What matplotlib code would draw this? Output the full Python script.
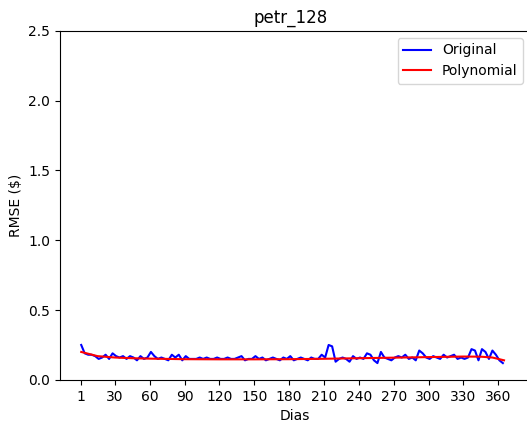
import matplotlib
matplotlib.use("Agg")
import matplotlib.pyplot as plt
import numpy as np

title = "petr_128"
xticks = [1, 30, 60, 90, 120, 150, 180, 210, 240, 270, 300, 330, 360]

# original RMSE, sampled every 3 days starting at day 1
original = [
    0.25, 0.19, 0.18, 0.18, 0.17, 0.15, 0.16, 0.18, 0.15, 0.19,
    0.17, 0.16, 0.17, 0.15, 0.17, 0.16, 0.14, 0.17, 0.15, 0.16,
    0.20, 0.17, 0.15, 0.16, 0.15, 0.14, 0.18, 0.16, 0.18, 0.14,
    0.17, 0.15, 0.15, 0.15, 0.16, 0.15, 0.16, 0.15, 0.15, 0.16,
    0.15, 0.15, 0.16, 0.15, 0.15, 0.16, 0.17, 0.14, 0.15, 0.15,
    0.17, 0.15, 0.16, 0.14, 0.15, 0.16, 0.15, 0.14, 0.16, 0.15,
    0.17, 0.14, 0.15, 0.16, 0.15, 0.14, 0.16, 0.15, 0.15, 0.18,
    0.16, 0.25, 0.24, 0.13, 0.15, 0.16, 0.15, 0.13, 0.17, 0.15,
    0.16, 0.15, 0.19, 0.18, 0.14, 0.12, 0.20, 0.16, 0.15, 0.14,
    0.16, 0.17, 0.16, 0.18, 0.15, 0.16, 0.14, 0.21, 0.19, 0.16,
    0.15, 0.17, 0.16, 0.15, 0.18, 0.16, 0.17, 0.18, 0.15, 0.16,
    0.15, 0.16, 0.22, 0.21, 0.14, 0.22, 0.20, 0.15, 0.21, 0.18,
    0.14, 0.12,
]
original_days = 1 + 3 * np.arange(len(original))

poly_days = [1, 15, 30, 45, 60, 90, 120, 150, 180, 210, 240, 270, 300, 330, 345, 355, 365]
polynomial = [0.20, 0.17, 0.16, 0.155, 0.152, 0.148, 0.147, 0.147, 0.148,
              0.151, 0.155, 0.159, 0.163, 0.167, 0.166, 0.160, 0.140]


def main():
    fig, ax = plt.subplots(figsize=(5.27, 4.23), dpi=100)
    # right spine sits just outside the picture, as in the reference
    fig.subplots_adjust(left=0.114, right=1.006, top=0.927, bottom=0.102)
    ax.plot(original_days, original, color="blue", label="Original")
    ax.plot(poly_days, polynomial, color="red", label="Polynomial")
    ax.set_title(title, x=0.49)
    ax.set_xlabel("Dias")
    ax.set_ylabel("RMSE ($)")
    ax.set_xlim(-17.2, 387.5)
    ax.set_ylim(0, 2.5)
    ax.set_xticks(xticks)
    ax.legend(loc="upper right")
    fig.savefig("out.png")


if __name__ == "__main__":
    main()
